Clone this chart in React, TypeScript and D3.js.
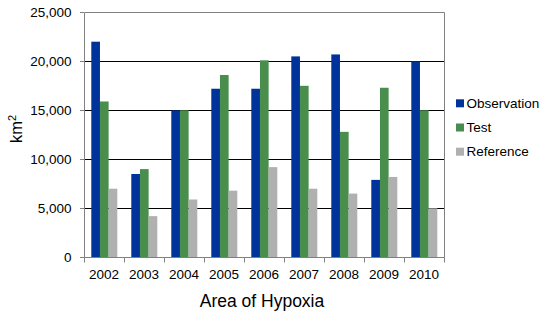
import * as d3 from "d3";
import { useEffect, useRef } from "react";

const years = ["2002", "2003", "2004", "2005", "2006", "2007", "2008", "2009", "2010"];
const observation = [22000, 8500, 15000, 17200, 17200, 20500, 20700, 7900, 20000];
const test = [15900, 9000, 15000, 18600, 20100, 17500, 12800, 17300, 15000];
const reference = [7000, 4200, 5900, 6800, 9200, 7000, 6500, 8200, 5000];
const seriesNames = ["Observation", "Test", "Reference"];
const seriesColors = ["#003399", "#4a8e4e", "#b0b0b0"];
const yTicks = [0, 5000, 10000, 15000, 20000, 25000];

export default function App() {
  const ref = useRef<SVGSVGElement>(null);

  useEffect(() => {
    const svg = d3.select(ref.current);
    svg.selectAll("*").remove();

    const width = 550;
    const height = 322;
    const margin = { top: 12, right: 106, bottom: 64, left: 84 };
    const font = "Liberation Sans, Arial, sans-serif";

    const x0 = d3.scaleBand()
      .domain(years)
      .range([margin.left, width - margin.right]);

    const x1 = d3.scaleBand()
      .domain(seriesNames)
      .range([7.3, x0.bandwidth() - 6.7]);

    const y = d3.scaleLinear()
      .domain([0, 25000])
      .range([height - margin.bottom - 0.7, margin.top + 0.3]);

    // gridlines
    svg.append("g")
      .selectAll("line")
      .data(yTicks.slice(1, -1))
      .join("line")
      .attr("x1", margin.left)
      .attr("x2", width - margin.right)
      .attr("y1", d => Math.round(y(d)) + 0.5)
      .attr("y2", d => Math.round(y(d)) + 0.5)
      .attr("stroke", "#000");

    const rows = years.map((yr, i) => ({
      year: yr,
      values: [observation[i], test[i], reference[i]],
    }));

    svg.append("g")
      .selectAll("g")
      .data(rows)
      .join("g")
      .attr("transform", d => `translate(${x0(d.year)},0)`)
      .selectAll("rect")
      .data(d => d.values.map((v, k) => ({ key: seriesNames[k], value: v, k })))
      .join("rect")
      .attr("x", d => x1(d.key)!)
      .attr("y", d => y(d.value))
      .attr("width", x1.bandwidth())
      .attr("height", d => y(0) - y(d.value))
      .attr("fill", d => seriesColors[d.k]);

    // plot frame
    const x0px = margin.left + 0.5;
    const x1px = width - margin.right + 0.5;
    const topPx = Math.round(y(25000)) + 0.5;
    const botPx = Math.round(y(0)) + 0.5;
    svg.append("path")
      .attr("d", `M${x0px},${botPx}V${topPx}H${x1px}V${botPx}Z`)
      .attr("fill", "none")
      .attr("stroke", "#808080");

    // y ticks + labels
    const yAxis = svg.append("g");
    yAxis.selectAll("line")
      .data(yTicks)
      .join("line")
      .attr("x1", margin.left - 4)
      .attr("x2", margin.left)
      .attr("y1", d => Math.round(y(d)) + 0.5)
      .attr("y2", d => Math.round(y(d)) + 0.5)
      .attr("stroke", "#808080");
    yAxis.selectAll("text")
      .data(yTicks)
      .join("text")
      .attr("x", 71.5)
      .attr("y", d => y(d))
      .attr("dy", "0.35em")
      .attr("text-anchor", "end")
      .attr("font-family", font)
      .attr("font-size", 13.5)
      .attr("fill", "#000")
      .text(d => d3.format(",")(d));

    // x ticks + labels
    const xAxis = svg.append("g");
    const bounds = years.map(d => x0(d)!).concat([width - margin.right]);
    xAxis.selectAll("line")
      .data(bounds)
      .join("line")
      .attr("x1", d => Math.round(d) + 0.5)
      .attr("x2", d => Math.round(d) + 0.5)
      .attr("y1", botPx)
      .attr("y2", botPx + 5)
      .attr("stroke", "#808080");
    xAxis.selectAll("text")
      .data(years)
      .join("text")
      .attr("x", d => x0(d)! + x0.bandwidth() / 2)
      .attr("y", 279)
      .attr("text-anchor", "middle")
      .attr("font-family", font)
      .attr("font-size", 13.5)
      .attr("fill", "#000")
      .text(d => d);

    svg.append("text")
      .attr("x", 262)
      .attr("y", 307)
      .attr("text-anchor", "middle")
      .attr("font-family", font)
      .attr("font-size", 17.5)
      .text("Area of Hypoxia");

    const yl = svg.append("text")
      .attr("transform", "translate(22,143) rotate(-90)")
      .attr("font-family", font)
      .attr("font-size", 16.5);
    yl.append("tspan").text("km");
    yl.append("tspan").attr("font-size", 11).attr("dy", -6.5).text("2");

    // legend
    const legend = svg.append("g")
      .selectAll("g")
      .data(seriesNames)
      .join("g")
      .attr("transform", (d, i) => `translate(456,${103.3 + i * 24.2})`);
    legend.append("rect")
      .attr("x", 0)
      .attr("y", -4)
      .attr("width", 8)
      .attr("height", 8)
      .attr("fill", (d, i) => seriesColors[i]);
    legend.append("text")
      .attr("x", 10.5)
      .attr("dy", "0.35em")
      .attr("font-family", font)
      .attr("font-size", 13.5)
      .text(d => d);
  }, []);

  return (
    <svg
      ref={ref}
      width={550}
      height={322}
      style={{ position: "absolute", left: 0, top: 0, background: "#fff" }}
    />
  );
}
